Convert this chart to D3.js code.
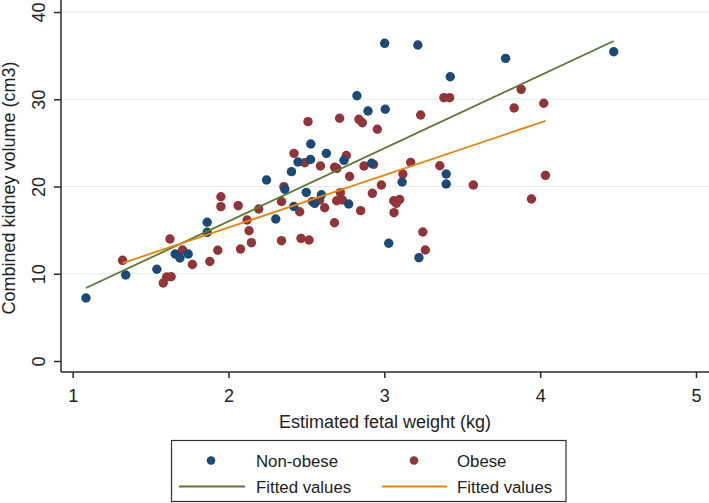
<!DOCTYPE html>
<html>
<head>
<meta charset="utf-8">
<script src="https://cdn.jsdelivr.net/npm/d3@7"></script>
<style>
  body { margin: 0; background: #fff; }
  svg { display: block; font-family: "Liberation Sans", Arial, sans-serif; }
</style>
</head>
<body>
<svg id="chart"></svg>
<script>
// estimated fetal weight (kg) / combined kidney volume (cm3)
const nonObeseX = [1.085, 1.34, 1.54, 1.658, 1.688, 1.741, 1.863, 1.863, 2.244, 2.303,
  2.361, 2.404, 2.419, 2.446, 2.526, 2.528, 2.499, 2.553, 2.596, 2.628,
  2.741, 2.771, 2.824, 2.895, 2.918, 3.002, 3.006, 3.028, 3.114, 3.215,
  3.222, 3.397, 3.397, 3.423, 3.778, 4.472];
const nonObeseY = [7.22, 9.86, 10.51, 12.26, 11.8, 12.26, 15.9, 14.75, 20.74, 16.28,
  19.68, 21.7, 17.71, 22.81, 23.09, 24.87, 19.33, 18.07, 19.06, 23.8,
  23.0, 17.99, 30.4, 28.65, 22.66, 36.41, 28.85, 13.49, 20.52, 36.22,
  11.84, 21.43, 20.29, 32.58, 34.69, 35.45];

const obeseX = [1.32, 1.581, 1.603, 1.632, 1.624, 1.705, 1.768, 1.88, 1.931, 1.951,
  1.951, 2.062, 2.077, 2.119, 2.132, 2.147, 2.194, 2.34, 2.34, 2.355,
  2.42, 2.457, 2.465, 2.489, 2.51, 2.517, 2.538, 2.585, 2.59, 2.617,
  2.68, 2.681, 2.696, 2.713, 2.718, 2.694, 2.731, 2.756, 2.777, 2.837,
  2.859, 2.848, 2.869, 2.931, 2.923, 2.955, 2.981, 3.06, 3.077, 3.098,
  3.062, 3.119, 3.169, 3.233, 3.247, 3.263, 3.356, 3.382, 3.419, 3.571,
  3.833, 3.878, 3.944, 4.023, 4.034];
const obeseY = [11.54, 8.94, 9.63, 9.66, 13.98, 12.72, 11.06, 11.4, 12.69, 18.83,
  17.69, 17.8, 12.84, 16.16, 14.93, 13.56, 17.42, 18.28, 13.79, 19.98,
  23.8, 17.11, 14.06, 22.73, 27.43, 13.87, 18.26, 18.45, 22.35, 17.57,
  15.85, 22.2, 22.06, 27.82, 19.29, 18.37, 18.45, 23.55, 21.15, 27.7,
  27.31, 17.23, 22.35, 22.54, 19.22, 26.56, 20.17, 18.37, 18.07, 18.51,
  17.0, 21.43, 22.77, 28.2, 14.79, 12.72, 22.38, 30.18, 30.18, 20.17,
  29.0, 31.14, 18.57, 29.54, 21.28];

const xTicks = [1, 2, 3, 4, 5];
const yTicks = [0, 10, 20, 30, 40];

const W = 709, H = 503;
const font = 18, legendFont = 16.8;
const colBlue = "#1a4a75", colRed = "#923539", colGreen = "#5a7a32", colOrange = "#e8840f";

const svg = d3.select("#chart").attr("width", W).attr("height", H);

const axisX0 = 61, axisY0 = 372;
const x = d3.scaleLinear().domain([1, 5]).range([72.7, 696]);
const y = d3.scaleLinear().domain([0, 40]).range([361, 12]);

// gridlines
svg.append("g").selectAll("line")
  .data(yTicks.filter(d => d > 0))
  .join("line")
  .attr("x1", axisX0).attr("x2", W)
  .attr("y1", d => y(d)).attr("y2", d => y(d))
  .attr("stroke", "#e3ecf0").attr("stroke-width", 1.2);

// y axis
const yAxis = svg.append("g")
  .attr("transform", `translate(${axisX0},0)`)
  .call(d3.axisLeft(y).tickValues(yTicks).tickSize(7).tickPadding(0).tickSizeOuter(0));
yAxis.select(".domain").attr("d", `M0,0V${axisY0}`);
yAxis.selectAll("path,line").attr("stroke", "#2a2a2a").attr("stroke-width", 1.5);
yAxis.selectAll("text")
  .attr("transform", "rotate(-90)")
  .attr("x", 0).attr("y", -16).attr("dy", 0)
  .attr("text-anchor", "middle")
  .attr("fill", "#222")
  .style("font-size", font + "px");

// x axis
const xAxis = svg.append("g")
  .attr("transform", `translate(0,${axisY0})`)
  .call(d3.axisBottom(x).tickValues(xTicks).tickFormat(d3.format("d")).tickSize(6).tickSizeOuter(0));
xAxis.select(".domain").attr("d", `M${axisX0},0H${W}`);
xAxis.selectAll("path,line").attr("stroke", "#2a2a2a").attr("stroke-width", 1.5);
xAxis.selectAll("text").attr("y", 17.5).attr("dy", "0.71em")
  .attr("fill", "#222").style("font-size", font + "px");

// axis titles
svg.append("text")
  .attr("x", 385).attr("y", 428)
  .attr("text-anchor", "middle")
  .attr("fill", "#222").style("font-size", font + "px")
  .text("Estimated fetal weight (kg)");

svg.append("text")
  .attr("transform", "translate(15,188) rotate(-90)")
  .attr("text-anchor", "middle")
  .attr("fill", "#222").style("font-size", font + "px")
  .text("Combined kidney volume (cm3)");

// points
function pts(xs, ys) { return xs.map((v, i) => ({ x: v, y: ys[i] })); }
const nonObese = pts(nonObeseX, nonObeseY);
const obese = pts(obeseX, obeseY);

svg.append("g").selectAll("circle")
  .data(obese).join("circle")
  .attr("cx", d => x(d.x)).attr("cy", d => y(d.y)).attr("r", 4.7)
  .attr("fill", colRed);

svg.append("g").selectAll("circle")
  .data(nonObese).join("circle")
  .attr("cx", d => x(d.x)).attr("cy", d => y(d.y)).attr("r", 4.7)
  .attr("fill", colBlue);

// least squares fit over each group's range
function fit(data) {
  const mx = d3.mean(data, d => d.x), my = d3.mean(data, d => d.y);
  const b = d3.sum(data, d => (d.x - mx) * (d.y - my)) / d3.sum(data, d => (d.x - mx) ** 2);
  const a = my - b * mx;
  const ext = d3.extent(data, d => d.x);
  return ext.map(v => ({ x: v, y: a + b * v }));
}
const line = d3.line().x(d => x(d.x)).y(d => y(d.y));

svg.append("path").datum(fit(nonObese))
  .attr("d", line).attr("fill", "none")
  .attr("stroke", colGreen).attr("stroke-width", 1.8);
svg.append("path").datum(fit(obese))
  .attr("d", line).attr("fill", "none")
  .attr("stroke", colOrange).attr("stroke-width", 1.8);

// legend
const lg = svg.append("g");
lg.append("rect")
  .attr("x", 171.5).attr("y", 440.5).attr("width", 394.5).attr("height", 61)
  .attr("fill", "#fff").attr("stroke", "#333").attr("stroke-width", 1.2);

const legendItems = [
  { label: "Non-obese", type: "dot", color: colBlue, cx: 211, tx: 256, cy: 460.5 },
  { label: "Obese", type: "dot", color: colRed, cx: 414, tx: 457, cy: 460.5 },
  { label: "Fitted values", type: "line", color: colGreen, x1: 179, x2: 245, tx: 256, cy: 486.5 },
  { label: "Fitted values", type: "line", color: colOrange, x1: 382, x2: 447, tx: 457, cy: 486.5 }
];
legendItems.forEach(it => {
  if (it.type === "dot") {
    lg.append("circle").attr("cx", it.cx).attr("cy", it.cy).attr("r", 4.3).attr("fill", it.color);
  } else {
    lg.append("line").attr("x1", it.x1).attr("x2", it.x2).attr("y1", it.cy).attr("y2", it.cy)
      .attr("stroke", it.color).attr("stroke-width", 1.8);
  }
  lg.append("text").attr("x", it.tx).attr("y", it.cy + 6)
    .attr("fill", "#222").style("font-size", legendFont + "px").text(it.label);
});
</script>
</body>
</html>
